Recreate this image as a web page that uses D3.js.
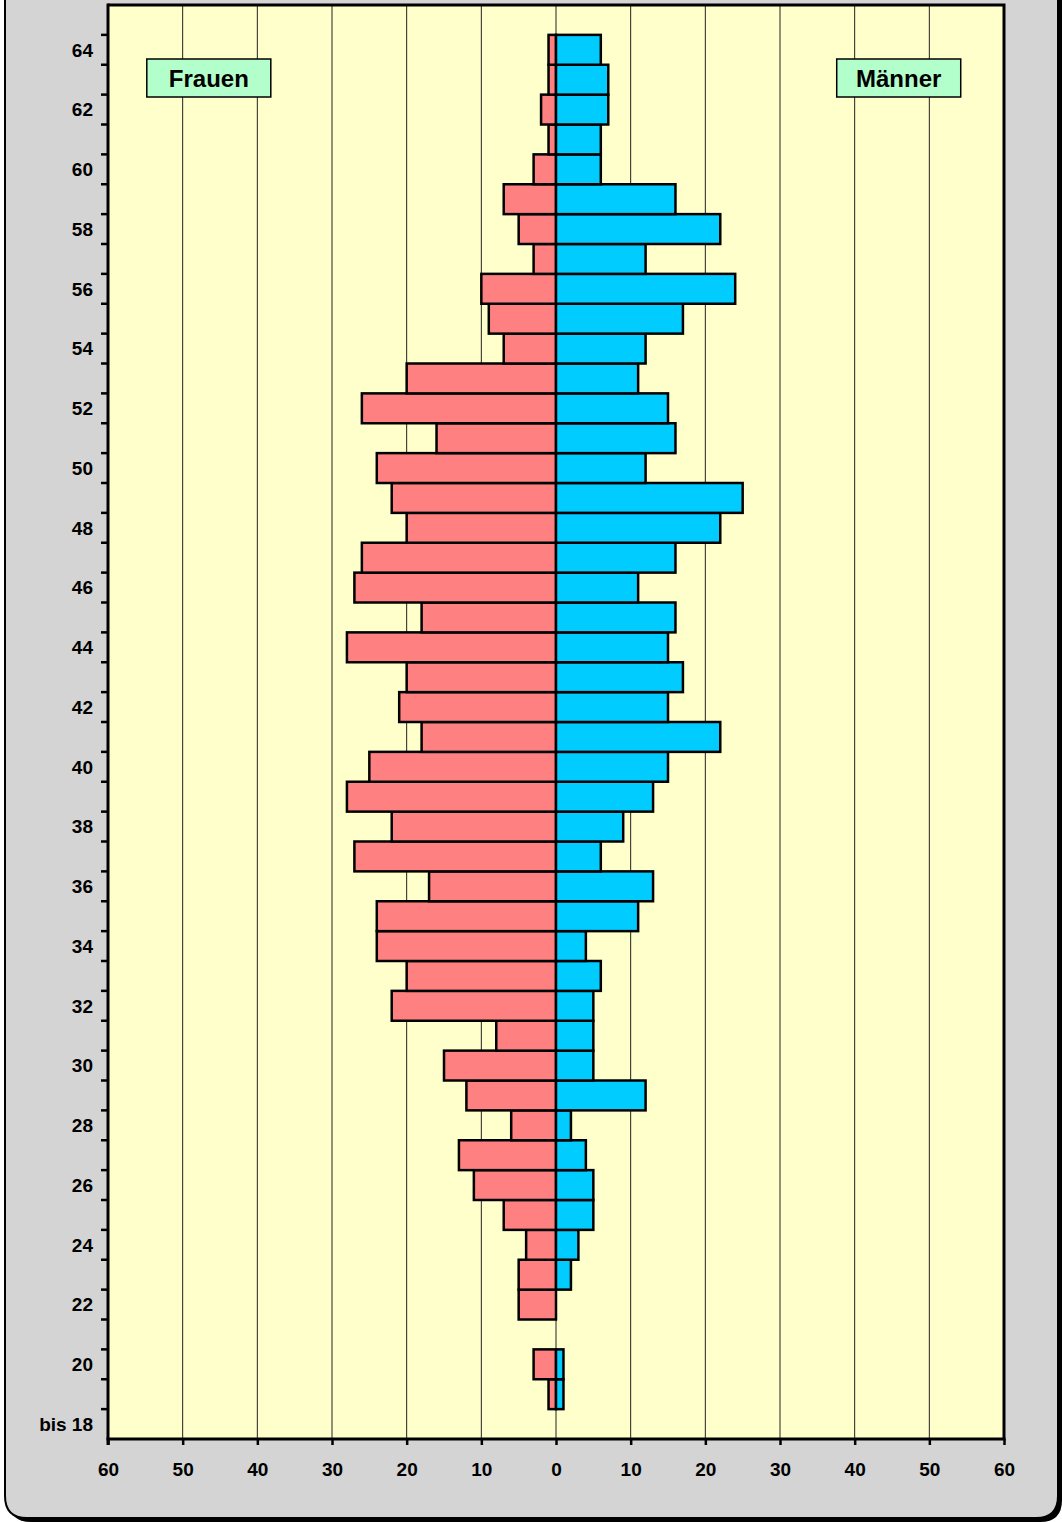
<!DOCTYPE html>
<html>
<head>
<meta charset="utf-8">
<script src="https://cdn.jsdelivr.net/npm/d3@7"></script>
<style>
  body { margin: 0; background: #fff; }
  svg { display: block; font-family: "Liberation Sans", Arial, sans-serif; }
</style>
</head>
<body>
<script>
// ages from 18 (bis 18) up to 65, bottom to top
var ages = d3.range(18, 66);
var frauen = [0, 1, 3, 0, 5, 5, 4, 7, 11, 13, 6, 12, 15, 8, 22, 20, 24, 24, 17, 27, 22, 28, 25, 18, 21, 20, 28, 18, 27, 26, 20, 22, 24, 16, 26, 20, 7, 9, 10, 3, 5, 7, 3, 1, 2, 1, 1, 0];
var maenner = [0, 1, 1, 0, 0, 2, 3, 5, 5, 4, 2, 12, 5, 5, 5, 6, 4, 11, 13, 6, 9, 13, 15, 22, 15, 17, 15, 16, 11, 16, 22, 25, 12, 16, 15, 11, 12, 17, 24, 12, 22, 16, 6, 6, 7, 7, 6, 0];
var xTicks = [-60, -50, -40, -30, -20, -10, 0, 10, 20, 30, 40, 50, 60];

var W = 1062, H = 1522;
var pL = 108, pR = 1004, pT = 5, pB = 1439;

var svg = d3.select('body').append('svg')
    .attr('width', W)
    .attr('height', H);

// outer panel with shadow
svg.append('path')
    .attr('d', 'M9,-10 L1062,-10 L1062,1500 Q1062,1522 1040,1522 L31,1522 Q9,1522 9,1500 Z')
    .attr('fill', '#000');
svg.append('path')
    .attr('d', 'M5,-10 L1058,-10 L1058,1496 Q1058,1518 1036,1518 L27,1518 Q5,1518 5,1496 Z')
    .attr('fill', '#d4d4d4')
    .attr('stroke', '#000')
    .attr('stroke-width', 2);

var x = d3.scaleLinear()
    .domain([-60, 60])
    .range([pL, pR]);

var y = d3.scaleBand()
    .domain(ages)
    .range([pB, pT])
    .paddingInner(0)
    .paddingOuter(0);

var g = svg.append('g');

g.append('rect')
    .attr('x', pL).attr('y', pT)
    .attr('width', pR - pL).attr('height', pB - pT)
    .attr('fill', '#ffffcc');

// gridlines
g.selectAll('line.grid')
    .data(xTicks.filter(function(d) { return d !== -60 && d !== 60; }))
    .enter().append('line')
    .attr('class', 'grid')
    .attr('x1', function(d) { return x(d); })
    .attr('x2', function(d) { return x(d); })
    .attr('y1', pT).attr('y2', pB)
    .attr('stroke', '#222')
    .attr('stroke-width', 1);

var rows = ages.map(function(a, i) { return { age: a, f: frauen[i], m: maenner[i] }; });

g.selectAll('rect.frauen')
    .data(rows.filter(function(d) { return d.f > 0; }))
    .enter().append('rect')
    .attr('class', 'frauen')
    .attr('x', function(d) { return x(-d.f); })
    .attr('y', function(d) { return y(d.age); })
    .attr('width', function(d) { return x(0) - x(-d.f); })
    .attr('height', y.bandwidth())
    .attr('fill', '#ff8080')
    .attr('stroke', '#000')
    .attr('stroke-width', 2.5);

g.selectAll('rect.maenner')
    .data(rows.filter(function(d) { return d.m > 0; }))
    .enter().append('rect')
    .attr('class', 'maenner')
    .attr('x', x(0))
    .attr('y', function(d) { return y(d.age); })
    .attr('width', function(d) { return x(d.m) - x(0); })
    .attr('height', y.bandwidth())
    .attr('fill', '#00ccff')
    .attr('stroke', '#000')
    .attr('stroke-width', 2.5);

// frame top/right
g.append('path')
    .attr('d', 'M' + pL + ',' + pT + 'H' + pR + 'V' + pB)
    .attr('fill', 'none')
    .attr('stroke', '#000')
    .attr('stroke-width', 3);

// x axis
var xAxis = d3.axisBottom(x)
    .tickValues(xTicks)
    .tickFormat(function(d) { return Math.abs(d); })
    .tickSize(6)
    .tickPadding(18);
var xg = g.append('g')
    .attr('transform', 'translate(0,' + pB + ')')
    .call(xAxis)
    .attr('font-size', 19)
    .attr('font-weight', 'bold')
    .attr('font-family', '"Liberation Sans", Arial, sans-serif');
xg.select('.domain').attr('stroke-width', 3).attr('d', 'M' + (pL - 1.5) + ',0H' + (pR + 1.5));
xg.selectAll('.tick line').attr('stroke-width', 2.5);
xg.selectAll('.tick text').attr('fill', '#000');

// y axis: ticks at row boundaries, labels on even ages
var yg = g.append('g').attr('transform', 'translate(' + pL + ',0)');
yg.append('line')
    .attr('x1', 0).attr('x2', 0)
    .attr('y1', pT - 1.5).attr('y2', pB + 6)
    .attr('stroke', '#000').attr('stroke-width', 3);
yg.selectAll('line.tick')
    .data(ages.slice(1))
    .enter().append('line')
    .attr('class', 'tick')
    .attr('x1', -7).attr('x2', 0)
    .attr('y1', function(d) { return y(d) + y.bandwidth(); })
    .attr('y2', function(d) { return y(d) + y.bandwidth(); })
    .attr('stroke', '#000').attr('stroke-width', 2.5);
yg.selectAll('text')
    .data(ages.filter(function(a) { return a % 2 === 0 && a <= 64; }))
    .enter().append('text')
    .attr('x', -15)
    .attr('y', function(d) { return y(d) + y.bandwidth() / 2; })
    .attr('dy', '0.36em')
    .attr('text-anchor', 'end')
    .attr('font-size', 19)
    .attr('font-weight', 'bold')
    .text(function(d) { return d === 18 ? 'bis 18' : d; });

// legend boxes
var legend = [{ label: 'Frauen', cx: x(-46.5) }, { label: 'Männer', cx: x(45.9) }];
var lg = g.selectAll('g.legend')
    .data(legend)
    .enter().append('g')
    .attr('class', 'legend');
lg.append('rect')
    .attr('x', function(d) { return d.cx - 62; })
    .attr('y', 59)
    .attr('width', 124)
    .attr('height', 38)
    .attr('fill', '#b3ffcc')
    .attr('stroke', '#000')
    .attr('stroke-width', 1.5);
lg.append('text')
    .attr('x', function(d) { return d.cx; })
    .attr('y', 78)
    .attr('dy', '0.36em')
    .attr('text-anchor', 'middle')
    .attr('font-size', 24)
    .attr('font-weight', 'bold')
    .text(function(d) { return d.label; });
</script>
</body>
</html>
